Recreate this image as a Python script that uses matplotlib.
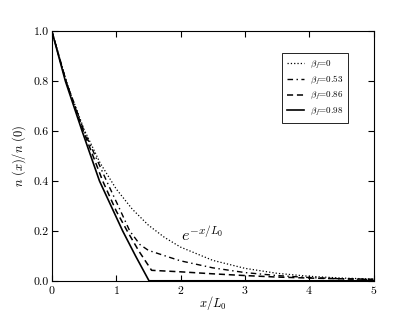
import numpy as np
import matplotlib
matplotlib.use("Agg")
import matplotlib.pyplot as plt

# values
x_exp = [0, 0.25, 0.5, 0.75, 1.0, 1.25, 1.5, 1.75, 2.0, 2.5, 3.0, 3.5, 4.0, 4.5, 5.0]
y_exp = [1.0, 0.779, 0.607, 0.472, 0.368, 0.287, 0.223, 0.174, 0.135, 0.082, 0.050, 0.030, 0.018, 0.011, 0.007]

x_053 = [0, 0.22, 0.5, 0.85, 1.05, 1.21, 1.37, 1.5, 1.63, 1.83, 2.0, 2.5, 3.0, 3.5, 4.0, 4.5, 5.0]
y_053 = [1.0, 0.8, 0.6, 0.4, 0.29, 0.2, 0.145, 0.122, 0.111, 0.094, 0.08, 0.052, 0.033, 0.021, 0.013, 0.008, 0.005]

x_086 = [0, 0.22, 0.49, 0.79, 1.0, 1.17, 1.35, 1.55, 2.0, 2.5, 3.0, 3.5, 4.0, 4.5, 5.0]
y_086 = [1.0, 0.8, 0.6, 0.4, 0.28, 0.2, 0.12, 0.042, 0.036, 0.028, 0.021, 0.015, 0.011, 0.008, 0.006]

x_098 = [0, 0.21, 0.47, 0.74, 0.92, 1.10, 1.30, 1.51, 5.0]
y_098 = [1.0, 0.8, 0.6, 0.4, 0.3, 0.2, 0.1, 0.0, 0.0]

labels = [r"$\beta_f$=0", r"$\beta_f$=0.53", r"$\beta_f$=0.86", r"$\beta_f$=0.98"]

plt.rcParams.update({
    "font.family": "serif",
    "font.serif": ["cmr10", "DejaVu Serif"],
    "mathtext.fontset": "cm",
    "axes.formatter.use_mathtext": True,
    "xtick.direction": "in",
    "ytick.direction": "in",
    "xtick.top": True,
    "ytick.right": True,
    "xtick.major.size": 4,
    "ytick.major.size": 4,
    "font.size": 8.5,
})

fig = plt.figure(figsize=(4.15, 3.12), dpi=100)
ax = fig.add_axes([0.125, 0.1, 0.775, 0.8])

ax.plot(x_exp, y_exp, color="k", linestyle=":", linewidth=0.9, label=labels[0])
ax.plot(x_053, y_053, color="k", linestyle="-.", linewidth=1.0, dashes=(4, 2.5, 1, 2.5), label=labels[1])
ax.plot(x_086, y_086, color="k", linestyle="--", linewidth=1.1, dashes=(4, 2.5), label=labels[2])
ax.plot(x_098, y_098, color="k", linestyle="-", linewidth=1.2, label=labels[3])

ax.set_xlim(0, 5)
ax.set_ylim(0, 1)
ax.set_xticks([0, 1, 2, 3, 4, 5])
ax.set_yticks([0.0, 0.2, 0.4, 0.6, 0.8, 1.0])
ax.set_yticklabels(["0.0", "0.2", "0.4", "0.6", "0.8", "1.0"])
ax.tick_params(labelsize=8.5, pad=2)

ax.set_xlabel(r"$x/L_0$", fontsize=9, labelpad=-1)
ax.set_ylabel(r"$n\ (x)/n\ (0)$", fontsize=9, labelpad=4)

ax.text(2.33, 0.185, r"$e^{-x/L_0}$", fontsize=11.5, ha="center", va="center")

leg = ax.legend(loc="upper right", bbox_to_anchor=(0.922, 0.911), borderaxespad=0,
                fontsize=6.5, handlelength=1.9, handletextpad=0.6, fancybox=False,
                framealpha=1, edgecolor="k", labelspacing=0.35, borderpad=0.6)
leg.get_frame().set_linewidth(0.6)

fig.savefig("out.png", dpi=100)
